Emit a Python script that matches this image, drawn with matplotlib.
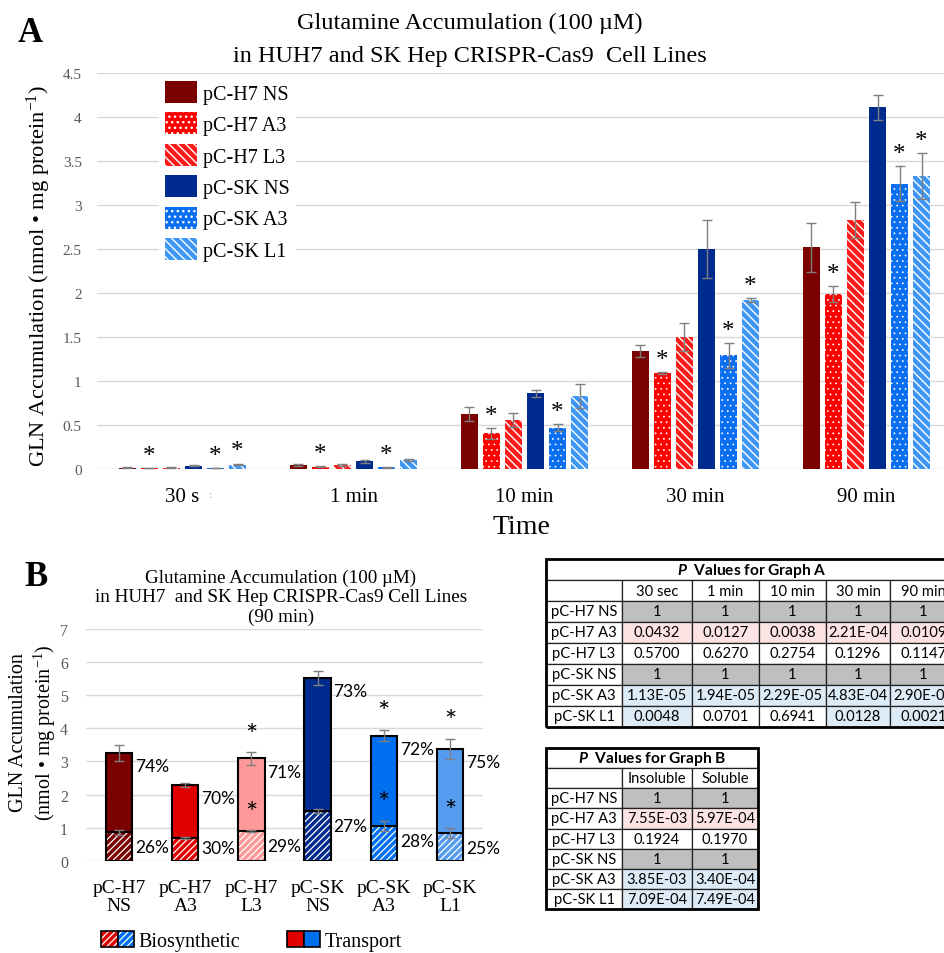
import matplotlib
matplotlib.use('Agg')
import matplotlib.pyplot as plt
import numpy as np
from matplotlib.patches import Rectangle
from matplotlib.legend_handler import HandlerTuple

plt.rcParams['font.family'] = ['Liberation Serif', 'DejaVu Serif']
plt.rcParams['mathtext.default'] = 'regular'
plt.rcParams['mathtext.fontset'] = 'custom'
plt.rcParams['mathtext.bfit'] = 'Lato:italic:bold'

# ---------------- Panel A data ----------------
time_points = ['30 s', '1 min', '10 min', '30 min', '90 min']
series_a = ['pC-H7 NS', 'pC-H7 A3', 'pC-H7 L3', 'pC-SK NS', 'pC-SK A3', 'pC-SK L1']
h7_ns = [0.015, 0.045, 0.625, 1.34, 2.52]
h7_ns_err = [0.005, 0.008, 0.08, 0.07, 0.28]
h7_a3 = [0.010, 0.027, 0.405, 1.09, 1.99]
h7_a3_err = [0.003, 0.005, 0.06, 0.01, 0.09]
h7_l3 = [0.015, 0.045, 0.56, 1.50, 2.83]
h7_l3_err = [0.004, 0.008, 0.08, 0.16, 0.20]
sk_ns = [0.037, 0.087, 0.86, 2.50, 4.11]
sk_ns_err = [0.008, 0.015, 0.04, 0.33, 0.14]
sk_a3 = [0.010, 0.020, 0.47, 1.29, 3.24]
sk_a3_err = [0.003, 0.004, 0.04, 0.14, 0.20]
sk_l1 = [0.050, 0.100, 0.83, 1.92, 3.33]
sk_l1_err = [0.010, 0.010, 0.14, 0.02, 0.26]

# P values for graph A (strings as printed)
pa_cols = ['30 sec', '1 min', '10 min', '30 min', '90 min']
pa_h7_ns = ['1', '1', '1', '1', '1']
pa_h7_a3 = ['0.0432', '0.0127', '0.0038', '2.21E-04', '0.0109']
pa_h7_l3 = ['0.5700', '0.6270', '0.2754', '0.1296', '0.1147']
pa_sk_ns = ['1', '1', '1', '1', '1']
pa_sk_a3 = ['1.13E-05', '1.94E-05', '2.29E-05', '4.83E-04', '2.90E-04']
pa_sk_l1 = ['0.0048', '0.0701', '0.6941', '0.0128', '0.0021']

# ---------------- Panel B data ----------------
cells_b = ['pC-H7\nNS', 'pC-H7\nA3', 'pC-H7\nL3', 'pC-SK\nNS', 'pC-SK\nA3', 'pC-SK\nL1']
total_b = [3.25, 2.29, 3.09, 5.52, 3.78, 3.38]
total_err_b = [0.25, 0.06, 0.19, 0.22, 0.17, 0.30]
bio_b = [0.86, 0.69, 0.90, 1.50, 1.06, 0.84]
bio_err_b = [0.07, 0.02, 0.02, 0.06, 0.15, 0.14]
transport_pct = ['74%', '70%', '71%', '73%', '72%', '75%']
bio_pct = ['26%', '30%', '29%', '27%', '28%', '25%']
star_total_b = [False, False, True, False, True, True]
star_bio_b = [False, False, True, False, True, True]

pb_cols = ['Insoluble', 'Soluble']
pb_h7_ns = ['1', '1']
pb_h7_a3 = ['7.55E-03', '5.97E-04']
pb_h7_l3 = ['0.1924', '0.1970']
pb_sk_ns = ['1', '1']
pb_sk_a3 = ['3.85E-03', '3.40E-04']
pb_sk_l1 = ['7.09E-04', '7.49E-04']

# ---------------- styles ----------------
colors_a = ['#7B0000', '#FF0000', '#FF1A1A', '#002B8E', '#0A6EF0', '#3D96F5']
hatches_a = [None, '...', '\\\\\\\\', None, '...', '\\\\\\\\']
hatch_lw_a = [1.0, 0.5, 1.0, 1.0, 0.5, 1.0]
colors_b = ['#7B0000', '#E00000', '#FF9999', '#002B8E', '#0070F0', '#559BEF']
GRID = '#D9D9D9'
TICKC = '#595959'
ERRC = '#7F7F7F'

W, H = 944, 954
fig = plt.figure(figsize=(W / 100, H / 100), dpi=100)


def fx(px):
    return px / W


def fy(py):
    return 1 - py / H


# ================= Panel A =================
ax = fig.add_axes([fx(97), fy(470), fx(855), 396 / H])
x = np.arange(len(time_points))
step, width = 0.1287, 0.105
vals_a = [h7_ns, h7_a3, h7_l3, sk_ns, sk_a3, sk_l1]
errs_a = [h7_ns_err, h7_a3_err, h7_l3_err, sk_ns_err, sk_a3_err, sk_l1_err]
pvals_a = [pa_h7_ns, pa_h7_a3, pa_h7_l3, pa_sk_ns, pa_sk_a3, pa_sk_l1]
handles = []
for i in range(6):
    plt.rcParams['hatch.linewidth'] = hatch_lw_a[i]
    pos = x + (i - 2.5) * step
    b = ax.bar(pos, vals_a[i], width, color=colors_a[i], hatch=hatches_a[i],
               edgecolor='white', linewidth=0, zorder=2, label=series_a[i])
    handles.append(b)
    ax.errorbar(pos, vals_a[i], yerr=errs_a[i], fmt='none', ecolor=ERRC,
                elinewidth=1, capsize=3.5, capthick=1, zorder=3)
    for j in range(len(time_points)):
        if float(pvals_a[i][j]) < 0.05 and not series_a[i].endswith('NS'):
            ax.text(pos[j], vals_a[i][j] + errs_a[i][j] + 0.14, '*', ha='center',
                    va='center', fontsize=18, zorder=4)

ax.set_xlim(-0.5, 4.5)
ax.set_ylim(0, 4.5)
ax.set_yticks(np.arange(0, 4.51, 0.5))
ax.set_yticklabels(['0', '0.5', '1', '1.5', '2', '2.5', '3', '3.5', '4', '4.5'])
ax.set_xticks(x)
ax.set_xticklabels(time_points)
ax.tick_params(axis='y', length=0, pad=11, labelsize=11, labelcolor=TICKC)
ax.tick_params(axis='x', length=0, pad=13, labelsize=15)
ax.yaxis.grid(True, color=GRID, lw=1, zorder=0)
ax.set_axisbelow(True)
for s in ax.spines.values():
    s.set_visible(False)
ax.text(0.16, -0.065, ':', transform=ax.get_xaxis_transform(), ha='center', va='center',
        fontsize=8, color='#A0A0A0')

leg = ax.legend(handles=handles, loc='upper left', bbox_to_anchor=(fx(159), fy(76)),
                bbox_transform=fig.transFigure, fontsize=14.5, frameon=True,
                facecolor='white', edgecolor='none', framealpha=1, fancybox=False,
                handlelength=1.6, handleheight=1.3, labelspacing=0.43,
                handletextpad=0.3, borderpad=0.3, borderaxespad=0)
leg.set_zorder(5)

fig.text(fx(39), fy(276), 'GLN Accumulation (nmol • mg protein$^{-1}$)', rotation=90,
         ha='center', va='center', fontsize=16.2)
fig.text(fx(521), fy(528), 'Time', ha='center', va='center', fontsize=20)
fig.text(fx(470), fy(40), 'Glutamine Accumulation (100 µM)\nin HUH7 and SK Hep CRISPR-Cas9  Cell Lines',
         ha='center', va='center', fontsize=17.5, linespacing=1.8)
fig.text(fx(30), fy(33), 'A', ha='center', va='center', fontsize=25, fontweight='bold')

# ================= Panel B =================
bx = fig.add_axes([fx(86), fy(861.7), fx(397), 231.7 / H])
xb = np.arange(len(cells_b))
wb = 0.4
transport_b = [t - b for t, b in zip(total_b, bio_b)]
plt.rcParams['hatch.linewidth'] = 0.9
bx.bar(xb, bio_b, wb, color=colors_b, hatch='/////', edgecolor='white', linewidth=0, zorder=2)
bx.bar(xb, bio_b, wb, fill=False, edgecolor='black', linewidth=1.5, zorder=3)
bx.bar(xb, transport_b, wb, bottom=bio_b, color=colors_b, edgecolor='black', linewidth=1.5, zorder=3)
bx.errorbar(xb, total_b, yerr=total_err_b, fmt='none', ecolor=ERRC, elinewidth=1,
            capsize=3.5, capthick=1, zorder=4)
bx.errorbar(xb, bio_b, yerr=bio_err_b, fmt='none', ecolor=ERRC, elinewidth=1,
            capsize=3.5, capthick=1, zorder=4)
for i in range(len(cells_b)):
    bx.annotate(transport_pct[i], (xb[i] + wb / 2, total_b[i] - 0.4), xytext=(2, 0),
                textcoords='offset points', ha='left', va='center', fontsize=12.5,
                family=['Lato', 'DejaVu Sans'])
    bx.annotate(bio_pct[i], (xb[i] + wb / 2, max(0.38, bio_b[i] - 0.45)), xytext=(2, 0),
                textcoords='offset points', ha='left', va='center', fontsize=12.5,
                family=['Lato', 'DejaVu Sans'])
    if star_total_b[i]:
        bx.text(xb[i], total_b[i] + total_err_b[i] + 0.5, '*', ha='center', va='center',
                fontsize=21, family=['Lato', 'DejaVu Sans'], zorder=5)
    if star_bio_b[i]:
        bx.text(xb[i], bio_b[i] + bio_err_b[i] + 0.5, '*', ha='center', va='center',
                fontsize=21, family=['Lato', 'DejaVu Sans'], zorder=5)
bx.set_xlim(-0.5, 5.5)
bx.set_ylim(0, 7)
bx.set_yticks(range(8))
bx.set_xticks(xb)
bx.set_xticklabels(cells_b, linespacing=1.1)
bx.tick_params(axis='y', length=0, pad=13, labelsize=11.5, labelcolor=TICKC)
bx.tick_params(axis='x', length=0, pad=13, labelsize=14)
bx.yaxis.grid(True, color=GRID, lw=1, zorder=0)
bx.set_axisbelow(True)
for s in bx.spines.values():
    s.set_visible(False)

fig.text(fx(34), fy(733), 'GLN Accumulation\n(nmol • mg protein$^{-1}$)', rotation=90,
         ha='center', va='center', fontsize=14.5, linespacing=1.2)
fig.text(fx(281), fy(598), 'Glutamine Accumulation (100 µM)\nin HUH7  and SK Hep CRISPR-Cas9 Cell Lines\n(90 min)',
         ha='center', va='center', fontsize=13.8, linespacing=1.17)
fig.text(fx(36), fy(578), 'B', ha='center', va='center', fontsize=25, fontweight='bold')

# legend for panel B
bio_red = Rectangle((0, 0), 1, 1, facecolor='#E00000', hatch='/////', edgecolor='white', lw=0)
bio_red_o = Rectangle((0, 0), 1, 1, fill=False, edgecolor='black', lw=1.2)
bio_blue = Rectangle((0, 0), 1, 1, facecolor='#0070F0', hatch='/////', edgecolor='white', lw=0)
bio_blue_o = Rectangle((0, 0), 1, 1, fill=False, edgecolor='black', lw=1.2)
tr_red = Rectangle((0, 0), 1, 1, facecolor='#E00000', edgecolor='black', lw=1.2)
tr_blue = Rectangle((0, 0), 1, 1, facecolor='#0070F0', edgecolor='black', lw=1.2)
h_bio = ((bio_red, bio_red_o), (bio_blue, bio_blue_o))
h_tr = (tr_red, tr_blue)
fig.legend([h_bio, h_tr], ['Biosynthetic', 'Transport'], loc='lower left',
           bbox_to_anchor=(fx(99), fy(954)), ncol=2, frameon=False, fontsize=14.5,
           handlelength=1.65, handleheight=0.8, handletextpad=0.2, columnspacing=2.35,
           borderpad=0.1, borderaxespad=0,
           handler_map={h_bio: HandlerTuple(ndivide=None, pad=0),
                        h_tr: HandlerTuple(ndivide=None, pad=0)})


# ================= Tables =================
def draw_table(left, top, widths, height_px, col_labels, rows, values, title):
    total_w = sum(widths)
    tax = fig.add_axes([fx(left), fy(top + height_px), fx(total_w), height_px / H])
    tax.axis('off')
    ncol = len(col_labels) + 1
    text = [[''] * ncol, [''] + col_labels]
    cols = [['white'] * ncol, ['white'] * ncol]
    for r, v in zip(rows, values):
        text.append([r] + v)
        rc = ['white']
        for s in v:
            if r.endswith('NS'):
                rc.append('#BFBFBF')
            elif float(s) < 0.05:
                rc.append('#FCE4E4' if 'H7' in r else '#DDEBF7')
            else:
                rc.append('white')
        cols.append(rc)
    tbl = tax.table(cellText=text, cellColours=cols, cellLoc='center', bbox=[0, 0, 1, 1],
                    colWidths=[w / total_w for w in widths])
    tbl.auto_set_font_size(False)
    for (r, c), cell in tbl.get_celld().items():
        cell.set_linewidth(0.9)
        cell.set_edgecolor('#202020')
        t = cell.get_text()
        t.set_fontsize(10.6)
        t.set_fontfamily(['Lato', 'DejaVu Sans'])
        if r == 0:
            if c == 0:
                cell.visible_edges = 'BLT'
            elif c == ncol - 1:
                cell.visible_edges = 'BRT'
            else:
                cell.visible_edges = 'BT'
    nrows = len(text)
    tax.text(0.5, 1 - 0.5 / nrows, r'$\mathbfit{P}$  ' + title, transform=tax.transAxes,
             ha='center', va='center', fontsize=11.2, fontweight='bold',
             family=['Lato', 'DejaVu Sans'])
    tax.add_patch(Rectangle((0, 0), 1, 1, transform=tax.transAxes, fill=False,
                            edgecolor='black', lw=2, clip_on=False))


rows_names = ['pC-H7 NS', 'pC-H7 A3', 'pC-H7 L3', 'pC-SK NS', 'pC-SK A3', 'pC-SK L1']
draw_table(546, 560, [76, 70, 67, 67, 64, 67], 168, pa_cols, rows_names,
           [pa_h7_ns, pa_h7_a3, pa_h7_l3, pa_sk_ns, pa_sk_a3, pa_sk_l1], 'Values for Graph A')
draw_table(546, 749, [76, 70, 66], 161, pb_cols, rows_names,
           [pb_h7_ns, pb_h7_a3, pb_h7_l3, pb_sk_ns, pb_sk_a3, pb_sk_l1], 'Values for Graph B')

fig.savefig('out.png', dpi=100)
